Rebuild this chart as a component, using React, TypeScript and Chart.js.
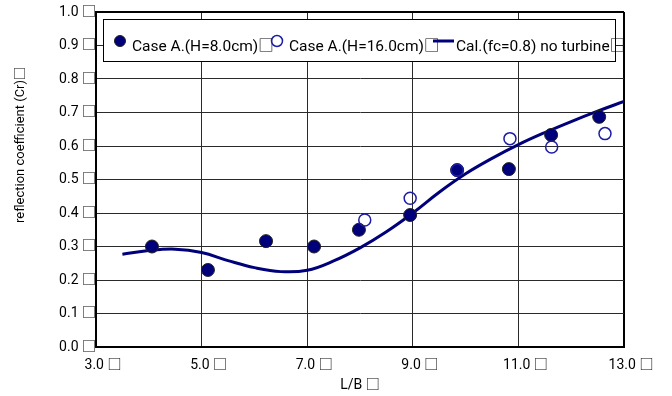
import React, { useEffect, useRef } from "react";
import { Chart, registerables } from "chart.js";

Chart.register(...registerables);

// Calculated curve: Cal.(fc=0.8) no turbine
const calX = [3.5, 4.0, 4.5, 5.0, 5.5, 6.0, 6.5, 7.0, 7.5, 8.0, 8.5, 9.0, 9.5, 10.0, 10.5, 11.0, 11.5, 12.0, 12.5, 13.0];
const calY = [0.277, 0.288, 0.292, 0.282, 0.258, 0.237, 0.225, 0.229, 0.257, 0.296, 0.344, 0.400, 0.462, 0.517, 0.563, 0.604, 0.640, 0.673, 0.704, 0.733];

// Case A.(H=8.0cm)
const h8X = [4.06, 5.12, 6.22, 7.13, 7.98, 8.95, 9.84, 10.82, 11.62, 12.53];
const h8Y = [0.30, 0.23, 0.316, 0.30, 0.35, 0.394, 0.528, 0.531, 0.633, 0.687];

// Case A.(H=16.0cm)
const h16X = [8.09, 8.95, 9.84, 10.84, 11.63, 12.64];
const h16Y = [0.379, 0.444, 0.528, 0.622, 0.597, 0.637];

const seriesLabels = ["Case A.(H=8.0cm)\u25A1", "Case A.(H=16.0cm)\u25A1", "Cal.(fc=0.8) no turbine\u25A1"];
const xTitle = "L/B \u25A1";
const yTitle = "reflection coefficient (Cr)\u25A1";
const xMin = 3, xMax = 13, xStep = 2;
const yMin = 0, yMax = 1, yStep = 0.1;

const FONT = "Roboto, 'Noto Sans CJK JP', sans-serif";
const NAVY = "#00007a";
const OPEN = "#1c1ca8";

const toPts = (xs: number[], ys: number[]) => xs.map((x, i) => ({ x, y: ys[i] }));

const boxLegend = {
  id: "boxLegend",
  afterDraw(chart: any) {
    const { ctx, chartArea } = chart;
    const l = chartArea.left + 7, t = chartArea.top + 7;
    const r = chartArea.right - 8, b = chartArea.top + 50;
    ctx.save();
    ctx.fillStyle = "#fff";
    ctx.fillRect(l, t, r - l, b - t);
    ctx.strokeStyle = "#000";
    ctx.lineWidth = 1;
    ctx.strokeRect(l + 0.5, t + 0.5, r - l - 1, b - t - 1);
    ctx.font = `15.5px ${FONT}`;
    ctx.fillStyle = "#000";
    ctx.textBaseline = "alphabetic";
    ctx.textAlign = "left";
    const ty = t + 32;
    ctx.fillText(seriesLabels[0], l + 29, ty);
    ctx.fillText(seriesLabels[1], l + 186, ty);
    ctx.fillText(seriesLabels[2], l + 353, ty);
    const my = t + 22;
    ctx.beginPath();
    ctx.arc(l + 17, my, 5.5, 0, Math.PI * 2);
    ctx.fillStyle = NAVY;
    ctx.fill();
    ctx.strokeStyle = "#222";
    ctx.lineWidth = 1;
    ctx.stroke();
    ctx.beginPath();
    ctx.arc(l + 174, my, 5.5, 0, Math.PI * 2);
    ctx.strokeStyle = OPEN;
    ctx.lineWidth = 1.5;
    ctx.stroke();
    ctx.beginPath();
    ctx.moveTo(l + 330, my);
    ctx.lineTo(l + 351, my);
    ctx.strokeStyle = NAVY;
    ctx.lineWidth = 3;
    ctx.stroke();
    ctx.restore();
  },
};

const yTitlePlugin = {
  id: "yTitle",
  afterDraw(chart: any) {
    const { ctx } = chart;
    ctx.save();
    ctx.translate(21, 145);
    ctx.rotate(-Math.PI / 2);
    ctx.font = `13px ${FONT}`;
    ctx.fillStyle = "#000";
    ctx.textAlign = "center";
    ctx.textBaseline = "middle";
    ctx.fillText(yTitle, 0, 0);
    ctx.restore();
  },
};

export default function App() {
  const ref = useRef<HTMLCanvasElement | null>(null);
  useEffect(() => {
    if (!ref.current) return;
    const chart = new Chart(ref.current, {
      type: "scatter",
      data: {
        datasets: [
          {
            label: seriesLabels[0],
            data: toPts(h8X, h8Y),
            backgroundColor: NAVY,
            borderColor: "#222",
            borderWidth: 1,
            pointRadius: 6.5,
            order: 2,
          },
          {
            label: seriesLabels[1],
            data: toPts(h16X, h16Y),
            backgroundColor: "rgba(0,0,0,0)",
            borderColor: OPEN,
            borderWidth: 1.5,
            pointRadius: 6,
            order: 1,
          },
          {
            label: seriesLabels[2],
            data: toPts(calX, calY),
            showLine: true,
            borderColor: NAVY,
            borderWidth: 3,
            pointRadius: 0,
            tension: 0.4,
            fill: false,
            order: 3,
          } as any,
        ],
      },
      options: {
        responsive: false,
        animation: false,
        layout: { padding: { left: 0, top: 12, right: 48, bottom: 0 } },
        plugins: { legend: { display: false }, tooltip: { enabled: false } },
        scales: {
          x: {
            type: "linear",
            min: xMin,
            max: xMax,
            afterFit: (s: any) => { s.height = 49; },
            ticks: {
              stepSize: xStep,
              color: "#000",
              font: { family: FONT, size: 14 },
              padding: 10,
              labelOffset: 7,
              maxRotation: 0,
              autoSkip: false,
              callback: (v: any) => Number(v).toFixed(1) + " \u25A1",
            },
            grid: {
              drawTicks: false,
              color: (c: any) => (c.tick && c.tick.value === xMax ? "#000" : "#2a2a2a"),
              lineWidth: (c: any) => (c.tick && c.tick.value === xMax ? 2 : 1),
            },
            border: { color: "#000", width: 2 },
            title: { display: true, text: xTitle, color: "#000", font: { family: FONT, size: 14 }, padding: { top: 0, bottom: 2 } },
          },
          y: {
            type: "linear",
            min: yMin,
            max: yMax,
            afterFit: (s: any) => { s.width = 96; },
            ticks: {
              stepSize: yStep,
              color: "#000",
              font: { family: FONT, size: 14 },
              padding: 0,
              autoSkip: false,
              callback: (v: any) => Number(v).toFixed(1) + " \u25A1",
            },
            grid: {
              drawTicks: false,
              color: (c: any) => (c.tick && Math.abs(c.tick.value - yMax) < 1e-6 ? "#000" : "#2a2a2a"),
              lineWidth: (c: any) => (c.tick && Math.abs(c.tick.value - yMax) < 1e-6 ? 2 : 1),
            },
            border: { color: "#000", width: 2 },
          },
        },
      },
      plugins: [boxLegend, yTitlePlugin],
    });
    return () => chart.destroy();
  }, []);
  return (
    <div style={{ position: "absolute", left: 0, top: 0, width: 672, height: 396, background: "#fff" }}>
      <canvas ref={ref} width={672} height={396} />
    </div>
  );
}
